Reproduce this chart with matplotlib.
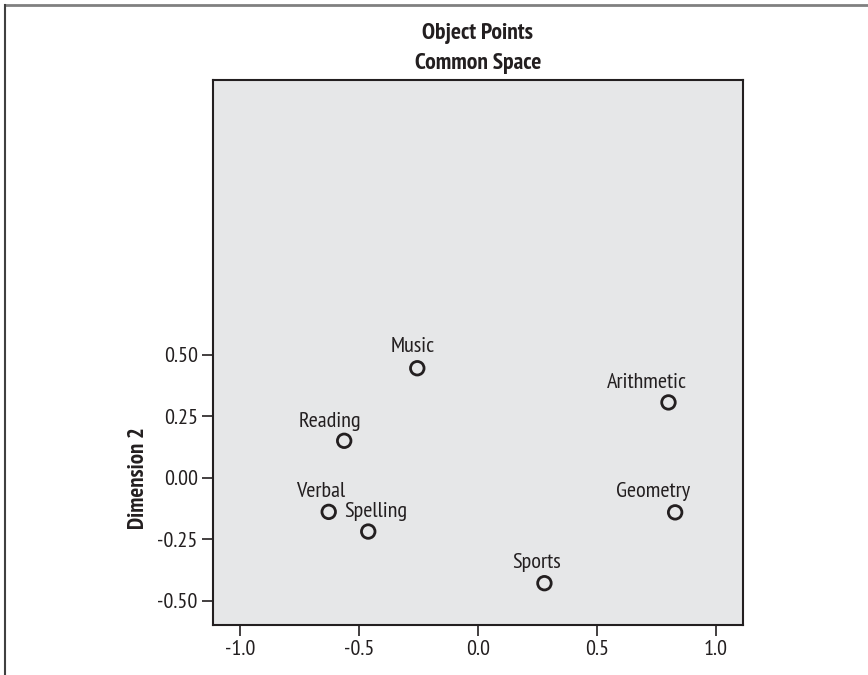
import matplotlib
matplotlib.use("Agg")
import matplotlib.pyplot as plt
from matplotlib.lines import Line2D
from matplotlib import font_manager

names = ["Music", "Reading", "Verbal", "Spelling", "Arithmetic", "Geometry", "Sports"]
dim1 = [-0.255, -0.562, -0.627, -0.461, 0.800, 0.828, 0.279]
dim2 = [0.445, 0.150, -0.139, -0.219, 0.306, -0.141, -0.429]
xticks = [-1.0, -0.5, 0.0, 0.5, 1.0]
yticks = [-0.50, -0.25, 0.00, 0.25, 0.50]
xtick_labels = ["-1.0", "-0.5", "0.0", "0.5", "1.0"]
ytick_labels = ["-0.50", "-0.25", "0.00", "0.25", "0.50"]

# label offsets (pixels) for annotation placement
label_offsets = {
    "Music": (-5, 16), "Reading": (-14, 14), "Verbal": (-8, 15),
    "Spelling": (8, 15), "Arithmetic": (-22, 14), "Geometry": (-22, 15),
    "Sports": (-8, 15),
}

avail = {f.name for f in font_manager.fontManager.ttflist}
pref = ["PT Sans Narrow", "Fira Sans Condensed", "Asap Condensed", "Archivo Narrow",
        "Barlow Semi Condensed", "Liberation Sans Narrow"]
main = next((p for p in pref if p in avail), "DejaVu Sans")
plt.rcParams["font.family"] = [main, "DejaVu Sans"]

W, H = 868, 675
fig = plt.figure(figsize=(W / 100, H / 100), dpi=100)
fig.patch.set_facecolor("white")

L, R, T, B = 213, 743, 80, 625
ax = fig.add_axes([L / W, 1 - B / H, (R - L) / W, (B - T) / H])
ax.set_facecolor("#e6e7e8")
for s in ax.spines.values():
    s.set_color("#231f20")
    s.set_linewidth(1.5)

ax.scatter(dim1, dim2, s=95, facecolors="none", edgecolors="#231f20", linewidths=2.0, zorder=3)
for n, x, y in zip(names, dim1, dim2):
    dx, dy = label_offsets[n]
    ax.annotate(n, (x, y), xytext=(dx, dy), textcoords="offset pixels",
                ha="center", va="baseline", fontsize=16, color="#231f20")

ax.set_xlim(-1.113, 1.113)
ax.set_ylim(-0.599, 1.617)
ax.set_xticks(xticks)
ax.set_xticklabels(xtick_labels)
ax.set_yticks(yticks)
ax.set_yticklabels(ytick_labels)
ax.tick_params(axis="both", direction="out", length=8, width=1.2, color="#231f20",
               labelsize=16, labelcolor="#231f20", pad=3)

ax.text(-0.14, 0.0, "Dimension 2", rotation=90, ha="center", va="center",
        fontsize=16.5, fontweight="bold", color="#231f20",
        transform=ax.get_yaxis_transform())

fig.text(478 / W, 1 - 33 / H, "Object Points", ha="center", va="center",
         fontsize=17, fontweight="bold", color="#231f20")
fig.text(478 / W, 1 - 63 / H, "Common Space", ha="center", va="center",
         fontsize=17, fontweight="bold", color="#231f20")

# outer frame lines
fig.add_artist(Line2D([4.5 / W, 1.0], [1 - 5 / H, 1 - 5 / H], transform=fig.transFigure,
                      color="#808080", linewidth=2.0))
fig.add_artist(Line2D([4.5 / W, 4.5 / W], [0, 1 - 5 / H], transform=fig.transFigure,
                      color="#404040", linewidth=1.5))

fig.savefig("out.png", dpi=100)
